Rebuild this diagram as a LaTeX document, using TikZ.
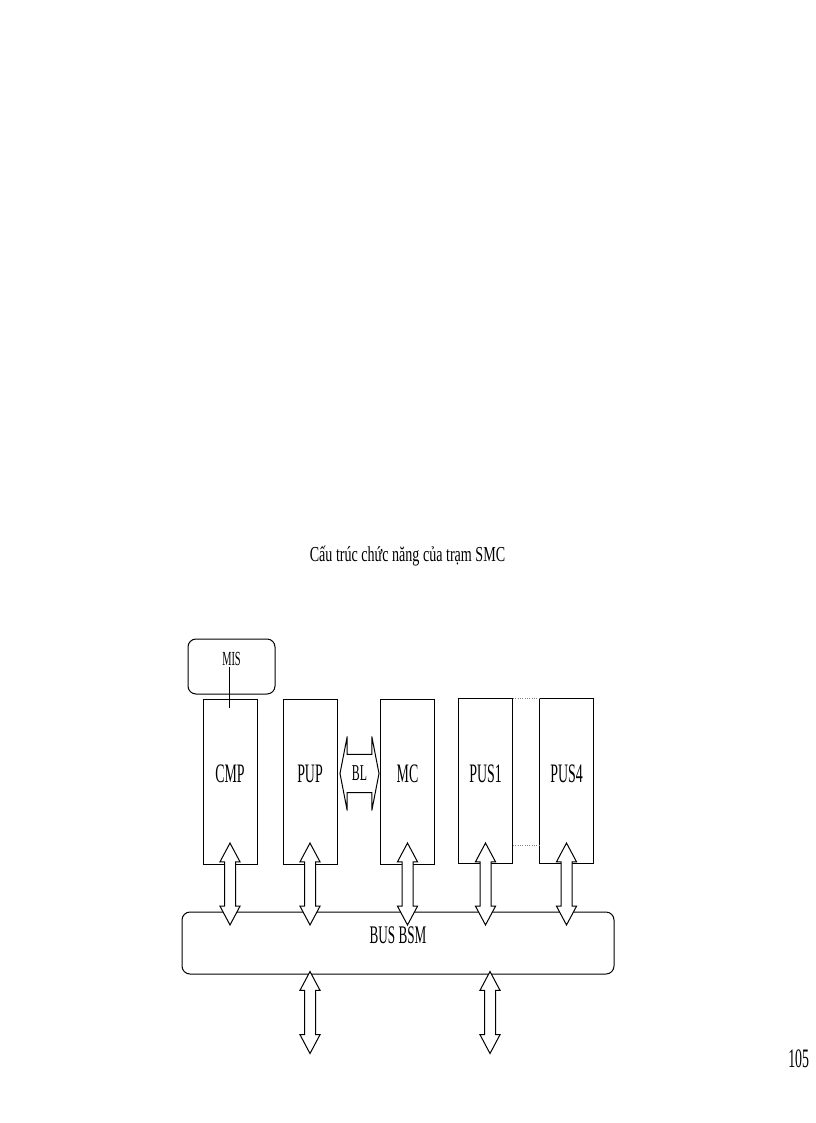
\documentclass[tikz,border=0pt]{standalone}
\usepackage{fontspec}
\usetikzlibrary{shapes.arrows}
\newfontfamily\narrowfont[FakeStretch=0.52]{Liberation Serif}
\newfontfamily\titlefont[FakeStretch=0.66]{Liberation Serif}
\tikzset{every picture/.style={line width=0.75pt}}
\tikzset{
  unit/.style={draw, minimum width=40.5pt, minimum height=123.75pt, inner sep=0pt, text height=14pt, text depth=12pt, font=\narrowfont\fontsize{20}{24}\selectfont},
  busarrow/.style={draw, fill=white, double arrow, rotate=90, inner xsep=0pt, inner ysep=3.75pt, minimum width=0pt, minimum height=61.5pt, double arrow head extend=3.4pt, double arrow tip angle=56},
}
\begin{document}
\begin{tikzpicture}[x=0.75pt,y=0.75pt,yscale=-1,xscale=1]
\useasboundingbox (0,0) rectangle (816,1123);

% Text Node
\node [anchor=base, font=\titlefont\fontsize{16}{19}\selectfont] (title) at (407.5,561) {Cấu trúc chức năng của trạm SMC};

%Shape: Rounded Rect
\node [draw, rounded corners=6pt, minimum width=65.25pt, minimum height=41.25pt, inner sep=0pt, text height=10pt, text depth=12pt, font=\narrowfont\fontsize{15}{18}\selectfont] (mis) at (231.5,666.5) {MIS};

%Shape: Rectangle
\node [unit] (cmp) at (230,781.5) {CMP};
\node [unit] (pup) at (310,781.5) {PUP};
\node [unit] (mc) at (407.5,781.5) {MC};
\node [unit] (pus1) at (485.5,781) {PUS1};
\node [unit] (pus4) at (566.5,781) {PUS4};

%Straight Lines
\coordinate (cmpin) at (229,708);
\draw (cmpin |- mis.center) -- (cmpin);
\draw [densely dotted, gray] (pus1.north east) -- (pus4.north west);
\draw [densely dotted, gray] (pus1.east |- 0,845) -- (pus4.west |- 0,845);

%Shape: Rounded Rect
\node [draw, rounded corners=6pt, minimum width=324pt, minimum height=46.5pt, inner sep=0pt, text height=14pt, text depth=13.5pt, font=\narrowfont\fontsize{19}{23}\selectfont] (bus) at (398,943) {BUS BSM};

%Shape: Double Arrow
\node [draw, fill=white, double arrow, inner xsep=0pt, inner ysep=8.9pt, text height=10pt, text depth=0pt, minimum width=0pt, minimum height=29.25pt, double arrow head extend=13.5pt, double arrow tip angle=158, font=\narrowfont\fontsize{17}{20}\selectfont] (bl) at (359.5,773.5) {BL};

%Shape: Double Arrow
\foreach \u in {cmp,pup,mc,pus1,pus4}
  \node [busarrow] (\u-bus) at (\u.south |- 0,884) {};
\node [busarrow] (out1) at (310,1012.5) {};
\node [busarrow] (out2) at (490,1012.5) {};

% Text Node
\node [anchor=base east, font=\narrowfont\fontsize{20}{24}\selectfont] (page) at (814,1067) {105};

\end{tikzpicture}
\end{document}
